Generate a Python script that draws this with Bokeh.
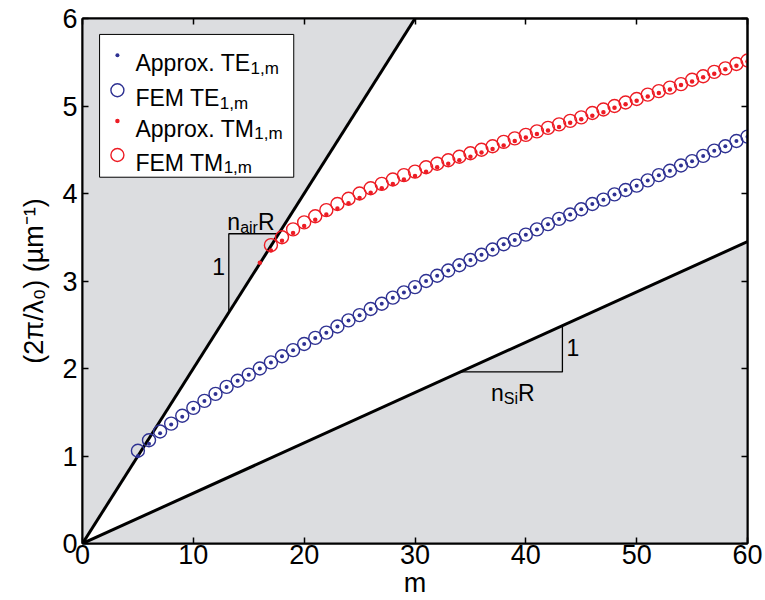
import numpy as np
from bokeh.plotting import figure
from bokeh.models import Label, LinearAxis, FixedTicker, Range1d
from bokeh.embed import file_html
from bokeh.resources import INLINE

# ---------------- data ----------------
m_te = list(range(5, 61))
k_te_fem = [1.06, 1.18, 1.28, 1.37, 1.46, 1.55, 1.63, 1.71, 1.79, 1.86,
            1.93, 2.00, 2.07, 2.14, 2.21, 2.28, 2.35, 2.41, 2.48, 2.55,
            2.61, 2.68, 2.74, 2.81, 2.87, 2.93, 3.00, 3.06, 3.12, 3.18,
            3.24, 3.30, 3.36, 3.42, 3.47, 3.53, 3.59, 3.65, 3.71, 3.76,
            3.82, 3.88, 3.93, 3.99, 4.04, 4.09, 4.15, 4.21, 4.26, 4.32,
            4.37, 4.43, 4.49, 4.54, 4.60, 4.65]
k_te_approx = [1.00, 1.14, 1.26, 1.36, 1.45, 1.54, 1.63, 1.71, 1.79, 1.86,
               1.93, 2.00, 2.07, 2.14, 2.21, 2.28, 2.35, 2.41, 2.48, 2.55,
               2.61, 2.68, 2.74, 2.81, 2.87, 2.93, 3.00, 3.06, 3.12, 3.18,
               3.24, 3.30, 3.36, 3.42, 3.47, 3.53, 3.59, 3.65, 3.71, 3.76,
               3.82, 3.88, 3.93, 3.99, 4.04, 4.09, 4.15, 4.21, 4.26, 4.32,
               4.37, 4.43, 4.49, 4.54, 4.60, 4.65]

m_tm_fem = list(range(17, 61))
k_tm_fem = [3.41, 3.50, 3.59, 3.67, 3.74, 3.81, 3.88, 3.94, 4.00, 4.06,
            4.11, 4.16, 4.21, 4.25, 4.30, 4.34, 4.38, 4.42, 4.46, 4.50,
            4.54, 4.59, 4.63, 4.67, 4.71, 4.75, 4.79, 4.83, 4.87, 4.92,
            4.96, 5.00, 5.04, 5.08, 5.13, 5.17, 5.21, 5.25, 5.30, 5.34,
            5.39, 5.43, 5.48, 5.52]
m_tm_approx = list(range(16, 61))
k_tm_approx = [3.21, 3.35, 3.46, 3.55, 3.63, 3.70, 3.76, 3.83, 3.89, 3.95,
               4.01, 4.06, 4.11, 4.16, 4.20, 4.25, 4.30, 4.34, 4.38, 4.42,
               4.47, 4.51, 4.55, 4.60, 4.64, 4.68, 4.72, 4.76, 4.81, 4.85,
               4.89, 4.93, 4.98, 5.02, 5.06, 5.11, 5.15, 5.19, 5.24, 5.28,
               5.33, 5.37, 5.42, 5.46, 5.51]

air_m = [0, 30]
air_k = [0, 6]
si_m = [0, 60]
si_k = [0, 3.45]

x_ticks = [0, 10, 20, 30, 40, 50, 60]
y_ticks = [0, 1, 2, 3, 4, 5, 6]

BLUE = "#2E3192"
RED = "#ED1C24"
GRAY = "#DCDDE0"
FONT = "Liberation Sans"

p = figure(width=765, height=600, x_range=Range1d(0, 60), y_range=Range1d(0, 6),
           output_backend="svg", toolbar_location=None,
           min_border_left=82, min_border_right=18, min_border_top=18, min_border_bottom=56)
p.background_fill_color = "white"
p.border_fill_color = "white"
p.outline_line_color = "black"
p.outline_line_width = 2
p.xgrid.visible = False
p.ygrid.visible = False

for ax, ticks in ((p.xaxis[0], x_ticks), (p.yaxis[0], y_ticks)):
    ax.ticker = FixedTicker(ticks=ticks)
    ax.major_tick_in = 6
    ax.major_tick_out = 0
    ax.minor_tick_line_color = None
    ax.axis_line_width = 2
    ax.major_tick_line_width = 1.5
    ax.major_label_text_font = FONT
    ax.major_label_text_font_size = "27px"
    ax.major_label_text_color = "black"
    ax.axis_label_text_font = FONT
    ax.axis_label_text_font_size = "27px"
    ax.axis_label_text_font_style = "normal"
    ax.axis_label_text_color = "black"
p.xaxis.major_label_standoff = 1
p.yaxis.major_label_standoff = 5
p.xaxis.axis_label = "m"
p.xaxis.axis_label_standoff = 1
p.yaxis.axis_label = "(2π/λ₀) (µm⁻¹)"
p.yaxis.axis_label_standoff = 10

for side, ticks in (("above", x_ticks), ("right", y_ticks)):
    ax = LinearAxis(ticker=FixedTicker(ticks=ticks),
                    major_label_overrides={t: "" for t in ticks},
                    major_label_text_font_size="0px",
                    major_tick_in=6, major_tick_out=0, minor_tick_line_color=None,
                    axis_line_width=2, major_tick_line_width=1.5, major_label_standoff=0)
    p.add_layout(ax, side)

# shaded forbidden regions
p.patch(x=[air_m[0], air_m[1], air_m[0]], y=[air_k[0], air_k[1], air_k[1]],
        fill_color=GRAY, line_color=None)
p.patch(x=[si_m[0], si_m[1], si_m[1]], y=[si_k[0], si_k[1], si_k[0]],
        fill_color=GRAY, line_color=None)
p.line(air_m, air_k, line_color="black", line_width=3)
p.line(si_m, si_k, line_color="black", line_width=3)

# slope triangles
sa = air_k[1] / air_m[1]
ss = si_k[1] / si_m[1]
ta0, ta1 = 13.2, 17.7
p.line([ta0, ta0, ta1], [sa * ta0, sa * ta1, sa * ta1], line_color="black", line_width=1.3)
ts0, ts1 = 34.1, 43.3
p.line([ts0, ts1, ts1], [ss * ts0, ss * ts0, ss * ts1], line_color="black", line_width=1.3)

# data
p.scatter(m_te, k_te_fem, marker="circle", size=13, fill_color=None, line_color=BLUE, line_width=1.4)
p.scatter(m_te, k_te_approx, marker="circle", size=4, fill_color=BLUE, line_color=None)
p.scatter(m_tm_fem, k_tm_fem, marker="circle", size=13, fill_color=None, line_color=RED, line_width=1.4)
p.scatter(m_tm_approx, k_tm_approx, marker="circle", size=4.5, fill_color=RED, line_color=None)

W = {'(': .333, ')': .333, '2': .556, '0': .556, '1': .556, 'π': .556, '/': .278, 'λ': .5,
     ' ': .278, 'µ': .576, 'm': .833, '-': .333, 'A': .667, 'p': .556, 'r': .333, 'o': .556,
     'x': .5, '.': .278, 'T': .611, 'E': .667, 'F': .611, 'M': .833, ',': .278, 'n': .556,
     'a': .556, 'i': .222, 'R': .722, 'S': .667}


def tw(s, size):
    return sum(W.get(c, .556) for c in s) * size


def rich(x, y, parts):
    """parts: list of (text, font px, baseline shift px (up positive))"""
    adv = 0.0
    for txt, size, shift in parts:
        lab = Label(x=x, y=y, text=txt, x_offset=adv, y_offset=shift,
                    text_font=FONT, text_font_size=f"{size}px", text_color="black",
                    text_align="left", text_baseline="alphabetic")
        p.add_layout(lab)
        adv += tw(txt, size)


# slope labels
rich(13.07, 3.67, [("n", 23, 0), ("air", 16, -5), ("R", 23, 0)])
p.add_layout(Label(x=12.29, y=3.17, text="1", text_font=FONT, text_font_size="23px",
                   text_color="black", text_align="center", text_baseline="middle"))
rich(36.86, 1.72, [("n", 23, 0), ("Si", 16, -5), ("R", 23, 0)])
p.add_layout(Label(x=44.24, y=2.24, text="1", text_font=FONT, text_font_size="23px",
                   text_color="black", text_align="center", text_baseline="middle"))

# legend (drawn by hand for sub-scripts)
lx0, lx1, ly0, ly1 = 1.54, 19.06, 4.186, 5.818
p.quad(left=lx0, right=lx1, bottom=ly0, top=ly1, fill_color="white", line_color="black", line_width=1)
rows = [5.58, 5.18, 4.83, 4.44]
mx = 3.15
p.scatter([mx], [rows[0]], marker="circle", size=4, fill_color=BLUE, line_color=None)
p.scatter([mx], [rows[1]], marker="circle", size=13, fill_color=None, line_color=BLUE, line_width=1.4)
p.scatter([mx], [rows[2]], marker="circle", size=4.5, fill_color=RED, line_color=None)
p.scatter([mx], [rows[3]], marker="circle", size=13, fill_color=None, line_color=RED, line_width=1.4)
names = ["Approx. TE", "FEM TE", "Approx. TM", "FEM TM"]
for r, nm in zip(rows, names):
    lab_y = r - 8 / 87.6
    rich(4.78, lab_y, [(nm, 23, 0), ("1,m", 17, -5)])

open("out.html", "w").write(file_html(p, INLINE))
